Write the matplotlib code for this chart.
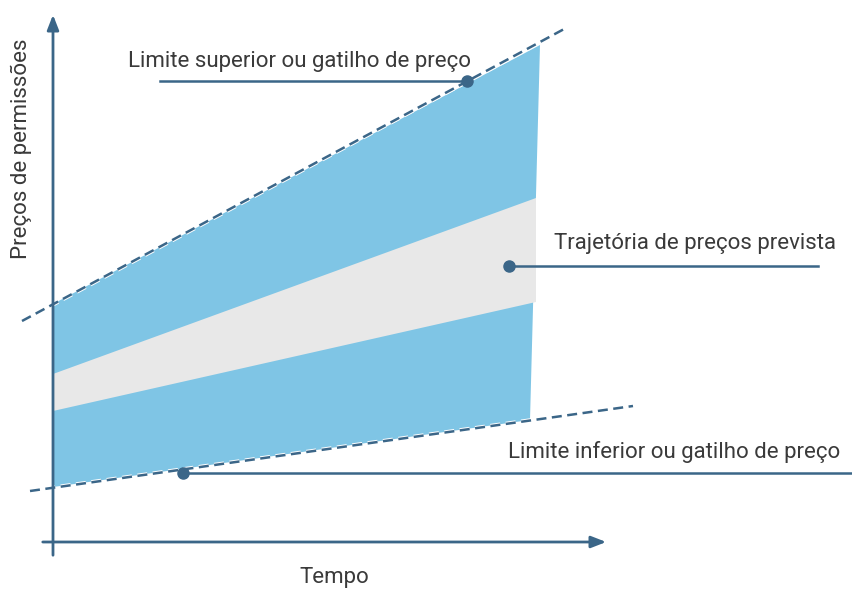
import matplotlib.pyplot as plt
import matplotlib.patheffects as pe
import numpy as np

plt.rcParams['font.family'] = ['Roboto', 'DejaVu Sans']

# Esquema em unidades de imagem (x para a direita, y para baixo)
x_tempo = np.array([53, 540])
# faixa azul (intervalo total)
azul_topo = np.array([304, 45])
azul_base = np.array([487, 420])
x_azul_base = np.array([53, 530])
# faixa cinza (trajetória prevista)
x_cinza = np.array([53, 536])
cinza_topo = np.array([374, 198])
cinza_base = np.array([411, 302])
# limites (linhas tracejadas)
sup_x = np.array([22, 566])
sup_y = np.array([321, 28])
inf_x = np.array([30, 633])
inf_y = np.array([491, 406])

rotulos = ["Limite superior ou gatilho de preço",
           "Trajetória de preços prevista",
           "Limite inferior ou gatilho de preço"]
rot_texto_xy = [(128, 62), (554, 244), (508, 452)]
rot_linha_x = [(160, 467), (509, 818), (183, 852)]
rot_linha_y = [81, 266, 473]
rot_ponto = [1, 0, 0]  # índice da extremidade com o ponto

cor_linha = "#3b6688"
cor_azul = "#7fc5e5"
cor_cinza = "#e8e8e8"
cor_texto = "#3a3a3a"

fig = plt.figure(figsize=(8.52, 5.89), dpi=100)
ax = fig.add_axes([0, 0, 1, 1])
ax.set_xlim(0, 852)
ax.set_ylim(589, 0)
ax.axis("off")

# faixa azul
poly_x = [x_tempo[0], x_tempo[1], x_azul_base[1], x_azul_base[0]]
poly_y = [azul_topo[0], azul_topo[1], azul_base[1], azul_base[0]]
ax.fill(poly_x, poly_y, color=cor_azul, lw=0, zorder=1)

# faixa cinza
ax.fill([x_cinza[0], x_cinza[1], x_cinza[1], x_cinza[0]],
        [cinza_topo[0], cinza_topo[1], cinza_base[1], cinza_base[0]],
        color=cor_cinza, lw=0, zorder=2)

# limites tracejados (com contorno branco)
contorno = [pe.Stroke(linewidth=3.2, foreground="white"), pe.Normal()]
ax.plot(sup_x, sup_y, color=cor_linha, lw=1.8, ls=(0, (4, 2.2)), zorder=3,
        path_effects=contorno)
ax.plot(inf_x, inf_y, color=cor_linha, lw=1.8, ls=(0, (4, 2.2)), zorder=3,
        path_effects=contorno)

# eixos com setas
ax.annotate("", xy=(53, 12), xytext=(53, 558),
            arrowprops=dict(arrowstyle="-|>,head_length=0.9,head_width=0.35",
                            color=cor_linha, lw=2), zorder=4)
ax.annotate("", xy=(609, 542), xytext=(40, 542),
            arrowprops=dict(arrowstyle="-|>,head_length=0.9,head_width=0.35",
                            color=cor_linha, lw=2), zorder=4)

ax.text(21, 149, "Preços de permissões", rotation=90, ha="center", va="center",
        fontsize=16, color=cor_texto)
ax.text(334, 578, "Tempo", ha="center", va="center", fontsize=16, color=cor_texto)

# rótulos com linhas de chamada
for texto, (tx, ty), lx, ly, p in zip(rotulos, rot_texto_xy, rot_linha_x, rot_linha_y, rot_ponto):
    ax.text(tx, ty, texto, ha="left", va="center", fontsize=16, color=cor_texto)
    ax.plot(lx, [ly, ly], color=cor_linha, lw=1.8, zorder=5)
    ax.plot(lx[p], ly, "o", color=cor_linha, ms=8, zorder=6)

fig.savefig("out.png", dpi=100)
